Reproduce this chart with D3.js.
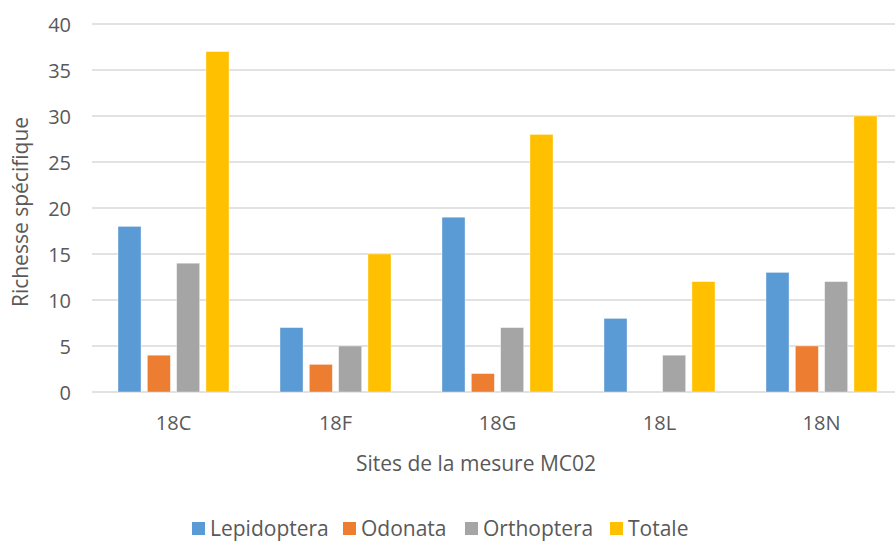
<!DOCTYPE html>
<html><head><meta charset="utf-8">
<script src="https://cdn.jsdelivr.net/npm/d3@7"></script>
<style>body{margin:0;background:#fff}svg{display:block}text{font-family:"Open Sans",sans-serif;fill:#595959}</style>
</head><body>
<svg id="c" width="895" height="542"></svg>
<script>
const categories = ["18C","18F","18G","18L","18N"];
const seriesNames = ["Lepidoptera","Odonata","Orthoptera","Totale"];
const lepidoptera = [18,7,19,8,13];
const odonata = [4,3,2,0,5];
const orthoptera = [14,5,7,4,12];
const totale = [37,15,28,12,30];
const yTicks = [0,5,10,15,20,25,30,35,40];
const colors = ["#5b9bd5","#ed7d31","#a5a5a5","#ffc000"];
const seriesValues = [lepidoptera, odonata, orthoptera, totale];

const svg = d3.select("#c");
const x0 = d3.scaleBand().domain(categories).range([92.5, 902.5]).paddingInner(0).paddingOuter(0);
const x1 = d3.scaleBand().domain(seriesNames).range([25.5, x0.bandwidth()-25.5]).paddingInner(0.215).paddingOuter(0);
const y = d3.scaleLinear().domain([0,40]).range([392, 24]);

// gridlines
svg.append("g").selectAll("line").data(yTicks).join("line")
  .attr("x1", 92).attr("x2", 895)
  .attr("y1", d=>y(d)).attr("y2", d=>y(d))
  .attr("stroke", "#d9d9d9").attr("stroke-width", 1.5);

// y axis labels
const yAxis = d3.axisLeft(y).tickValues(yTicks).tickSize(0).tickPadding(0);
const gy = svg.append("g").attr("transform","translate(71,0)").call(yAxis);
gy.select(".domain").remove();
gy.selectAll("text").attr("font-size", 20).attr("font-family","Open Sans").attr("fill","#595959").attr("dy","0.36em");

// bars
const groups = svg.append("g").selectAll("g").data(categories).join("g")
  .attr("transform", d=>`translate(${x0(d)},0)`);
groups.selectAll("rect").data((c,i)=>seriesNames.map((s,j)=>({s, v: seriesValues[j][i], j})))
  .join("rect")
  .attr("x", d=>x1(d.s)).attr("width", x1.bandwidth())
  .attr("y", d=>y(d.v)).attr("height", d=>y(0)-y(d.v))
  .attr("fill", d=>colors[d.j])
  .attr("stroke", "#fff").attr("stroke-width", 0.6).attr("stroke-opacity", 0.6);

// x axis labels
const xAxis = d3.axisBottom(x0).tickSize(0).tickPadding(0);
const gx = svg.append("g").attr("transform","translate(0,423)").call(xAxis);
gx.select(".domain").remove();
gx.selectAll("text").attr("font-size", 20).attr("font-family","Open Sans").attr("fill","#595959").attr("dy","0.36em");

// axis titles
svg.append("text").attr("x", 476).attr("y", 463).attr("dy","0.36em")
  .attr("text-anchor","middle").attr("font-size", 21).text("Sites de la mesure MC02");
svg.append("text").attr("transform","translate(28,212) rotate(-90)")
  .attr("text-anchor","middle").attr("font-size", 21).text("Richesse spécifique");

// legend
const legX = [192, 343, 465, 610];
const leg = svg.append("g").selectAll("g").data(seriesNames).join("g")
  .attr("transform", (d,i)=>`translate(${legX[i]},536)`);
leg.append("rect").attr("x",0).attr("y",-14).attr("width",13).attr("height",13).attr("fill",(d,i)=>colors[i]);
leg.append("text").attr("x",18).attr("font-size",21).text(d=>d);
</script>
</body></html>
